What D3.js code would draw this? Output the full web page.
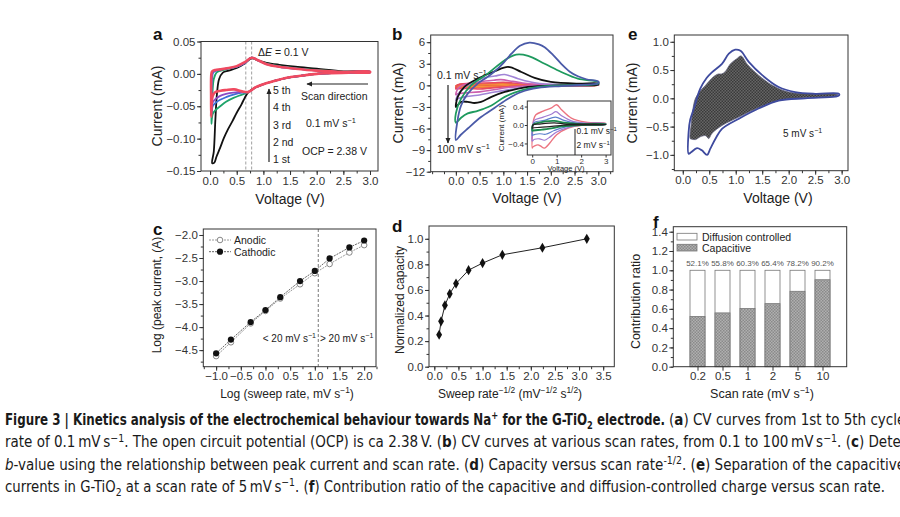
<!DOCTYPE html>
<html><head><meta charset="utf-8">
<script src="https://cdn.jsdelivr.net/npm/d3@7"></script>
<style>
body{margin:0;background:#fff;}
svg{display:block;}
</style></head><body>
<svg id="fig" width="900" height="517"></svg>
<script>
// ---------------- DATA ----------------
// Panel a: CV cycles at 0.1 mV/s  [V, mA]
const aLowerCommon = [[3.0,0.0025],[2.6,0.002],[2.2,0.001],[2.0,0.0],[1.7,-0.003],[1.44,-0.006],[1.2,-0.011],[1.0,-0.016],[0.85,-0.021],[0.72,-0.028]];
const aCycle1 = [[0.65,-0.037],[0.59,-0.047],[0.5,-0.06],[0.42,-0.073],[0.34,-0.085],[0.26,-0.099],[0.19,-0.114],[0.12,-0.128],[0.08,-0.137],[0.04,-0.138],[0.07,-0.12],[0.1,-0.07],[0.13,-0.03],[0.17,-0.008],[0.24,0.002],[0.35,0.005],[0.5,0.009],[0.65,0.016],[0.78,0.024],[0.92,0.02],[1.06,0.017],[1.3,0.014],[1.6,0.011],[2.0,0.008],[2.5,0.004],[3.0,0.0035]];
const aCycle2 = [[0.6,-0.032],[0.44,-0.037],[0.3,-0.043],[0.19,-0.05],[0.1,-0.056],[0.05,-0.062],[0.025,-0.077],[0.03,-0.06],[0.045,-0.03],[0.07,-0.008],[0.12,0.002],[0.2,0.005],[0.35,0.008],[0.5,0.011],[0.65,0.017],[0.78,0.025],[0.92,0.02],[1.06,0.016],[1.3,0.012],[1.6,0.009],[2.0,0.006],[2.5,0.003],[3.0,0.0035]];
const aCycle3 = [[0.6,-0.029],[0.44,-0.032],[0.3,-0.036],[0.19,-0.04],[0.1,-0.045],[0.05,-0.05],[0.025,-0.063],[0.025,-0.04],[0.035,-0.01],[0.06,0.002],[0.15,0.006],[0.3,0.008],[0.5,0.011],[0.65,0.017],[0.78,0.025],[0.92,0.02],[1.06,0.015],[1.3,0.011],[1.6,0.008],[2.0,0.005],[2.5,0.003],[3.0,0.0035]];
const aCycle4 = [[0.6,-0.028],[0.44,-0.029],[0.3,-0.031],[0.19,-0.034],[0.1,-0.039],[0.05,-0.044],[0.025,-0.06],[0.022,-0.04],[0.03,-0.005],[0.05,0.003],[0.15,0.006],[0.3,0.008],[0.5,0.011],[0.65,0.017],[0.78,0.025],[0.92,0.02],[1.06,0.015],[1.3,0.011],[1.6,0.008],[2.0,0.005],[2.5,0.003],[3.0,0.0035]];
const aCycle5 = [[0.6,-0.027],[0.45,-0.024],[0.3,-0.025],[0.2,-0.026],[0.1,-0.028],[0.05,-0.034],[0.03,-0.045],[0.02,-0.066],[0.02,-0.04],[0.025,0.0],[0.04,0.004],[0.1,0.006],[0.2,0.007],[0.35,0.009],[0.5,0.012],[0.65,0.018],[0.78,0.025],[0.9,0.021],[1.06,0.015],[1.3,0.011],[1.6,0.008],[2.0,0.005],[2.5,0.003],[3.0,0.0035]];

// Panel b: CV at various scan rates [V, mA]
const bRate100 = [[3.0,0.3],[2.6,0.05],[2.22,-0.1],[1.73,-0.36],[1.38,-0.92],[1.1,-1.85],[0.82,-3.1],[0.53,-4.4],[0.25,-6.0],[0.1,-6.9],[0.0,-7.6],[0.03,-5.1],[0.11,-2.8],[0.25,-1.15],[0.46,0.24],[0.65,1.1],[0.82,1.96],[1.0,3.1],[1.17,4.4],[1.35,5.5],[1.55,5.95],[1.75,5.7],[1.87,5.3],[2.05,4.2],[2.22,3.0],[2.4,1.9],[2.57,1.26],[2.75,0.85],[3.0,0.55]];
const bRate50 = [[3.0,0.24],[2.22,0.0],[1.73,-0.22],[1.38,-0.69],[1.03,-1.6],[0.75,-2.8],[0.57,-3.3],[0.43,-3.6],[0.25,-3.9],[0.11,-4.5],[0.0,-5.2],[0.0,-3.9],[0.11,-1.85],[0.32,0.0],[0.67,1.63],[1.03,3.5],[1.27,4.27],[1.52,4.1],[1.87,3.0],[2.22,1.86],[2.57,0.93],[3.0,0.47]];
const bRate20 = [[3.0,0.12],[2.22,0.0],[1.52,-0.22],[1.03,-0.92],[0.75,-1.6],[0.53,-2.3],[0.39,-2.45],[0.25,-2.3],[0.11,-2.3],[0.02,-2.9],[0.0,-3.0],[0.04,-1.6],[0.18,-0.2],[0.46,0.93],[0.82,1.96],[1.1,2.56],[1.38,1.86],[1.66,1.03],[2.0,0.47],[2.57,0.24],[3.0,0.26]];
const bRate10 = [[3.0,0.08],[2.22,-0.05],[1.52,-0.2],[1.17,-0.55],[0.82,-0.92],[0.46,-1.38],[0.18,-1.6],[0.04,-1.85],[0.0,-2.07],[0.08,-0.92],[0.25,0.0],[0.53,0.93],[0.82,1.3],[1.03,1.5],[1.31,0.93],[1.66,0.37],[2.22,0.1],[3.0,0.14]];
const bRate5 = [[3.0,0.05],[2.0,0.0],[1.5,-0.1],[1.1,-0.3],[0.8,-0.6],[0.5,-0.9],[0.2,-1.05],[0.05,-1.15],[0.0,-1.3],[0.05,-0.4],[0.2,0.15],[0.5,0.5],[0.8,0.72],[0.95,0.8],[1.2,0.55],[1.5,0.25],[2.0,0.08],[3.0,0.1]];
// low scan rates (also shown in inset)
const bRate2 = [[3.0,0.02],[2.1,0.0],[1.47,-0.065],[1.0,-0.21],[0.72,-0.39],[0.5,-0.5],[0.35,-0.46],[0.24,-0.43],[0.1,-0.45],[0.02,-0.48],[0.0,-0.5],[0.02,-0.1],[0.06,0.12],[0.15,0.22],[0.45,0.3],[0.79,0.37],[1.0,0.44],[1.2,0.33],[1.6,0.15],[2.2,0.06],[3.0,0.035]];
const bRate1 = [[3.0,0.015],[2.1,0.0],[1.5,-0.05],[1.0,-0.15],[0.7,-0.27],[0.5,-0.33],[0.3,-0.3],[0.1,-0.31],[0.02,-0.34],[0.0,-0.35],[0.02,-0.05],[0.08,0.1],[0.45,0.17],[0.8,0.24],[0.97,0.29],[1.2,0.2],[1.6,0.09],[2.2,0.04],[3.0,0.03]];
const bRate05 = [[3.0,0.015],[2.0,0.0],[1.3,-0.05],[0.9,-0.12],[0.55,-0.2],[0.3,-0.19],[0.02,-0.22],[0.0,-0.23],[0.03,0.0],[0.1,0.06],[0.5,0.1],[0.95,0.17],[1.3,0.1],[1.8,0.04],[3.0,0.025]];
const bRate02 = [[3.0,0.012],[2.0,0.0],[1.2,-0.03],[0.7,-0.08],[0.4,-0.1],[0.02,-0.12],[0.0,-0.125],[0.03,0.0],[0.2,0.04],[0.9,0.09],[1.3,0.05],[2.0,0.02],[3.0,0.02]];
const bRate01 = [[3.0,0.008],[1.5,0.0],[0.8,-0.03],[0.3,-0.05],[0.02,-0.065],[0.0,-0.07],[0.03,0.0],[0.3,0.02],[0.9,0.045],[1.4,0.02],[3.0,0.012]];

// Panel e: total current and capacitive part at 5 mV/s [V, mA]
const eTotal = [[0.11,-0.98],[0.11,-0.6],[0.14,-0.38],[0.21,-0.18],[0.33,0.17],[0.45,0.36],[0.55,0.46],[0.74,0.61],[0.87,0.79],[0.99,0.86],[1.09,0.84],[1.25,0.64],[1.5,0.41],[1.81,0.2],[2.12,0.11],[2.5,0.08],[2.95,0.08],[2.95,0.05],[2.88,0.03],[2.31,0.0],[1.81,-0.04],[1.43,-0.18],[1.06,-0.36],[0.74,-0.54],[0.62,-0.71],[0.52,-0.89],[0.46,-1.0],[0.36,-0.92],[0.27,-0.88],[0.15,-0.96]];
const eCapacitive = [[0.14,-0.71],[0.16,-0.45],[0.19,-0.2],[0.24,0.0],[0.33,0.13],[0.43,0.23],[0.58,0.38],[0.67,0.43],[0.73,0.43],[0.8,0.47],[0.9,0.61],[1.02,0.7],[1.1,0.75],[1.22,0.6],[1.43,0.41],[1.69,0.23],[2.0,0.11],[2.44,0.08],[2.92,0.07],[2.92,0.05],[2.31,0.01],[1.81,-0.04],[1.37,-0.19],[1.06,-0.33],[0.74,-0.48],[0.55,-0.62],[0.49,-0.71],[0.43,-0.66],[0.33,-0.68],[0.24,-0.73],[0.16,-0.72]];

// Panel c: log peak current vs log sweep rate
const cLogRate = [-1.0,-0.7,-0.3,0.0,0.3,0.7,1.0,1.3,1.7,2.0];
const cAnodic = [-4.63,-4.33,-3.92,-3.65,-3.38,-3.07,-2.83,-2.63,-2.38,-2.22];
const cCathodic = [-4.57,-4.27,-3.89,-3.63,-3.35,-3.0,-2.78,-2.51,-2.27,-2.12];

// Panel d: normalized capacity vs sweep rate^-1/2
const dInvSqrtRate = [0.1,0.14,0.22,0.32,0.45,0.71,1.0,1.41,2.24,3.16];
const dCapacity = [0.25,0.355,0.48,0.57,0.65,0.755,0.81,0.875,0.93,1.0];

// Panel f: contribution ratio
const fRates = ['0.2','0.5','1','2','5','10'];
const fCapacitive = [0.521,0.558,0.603,0.654,0.782,0.902];

// Caption
const captionTitle = 'Figure 3 | Kinetics analysis of the electrochemical behaviour towards Na^{+} for the G-TiO_{2} electrode.';
const captionLines = [
 '(<b>a</b>) CV curves from 1st to 5th cycles at a scan',
 'rate of 0.1\u2009mV\u2009s^{\u22121}. The open circuit potential (OCP) is ca 2.38\u2009V. (<b>b</b>) CV curves at various scan rates, from 0.1 to 100\u2009mV\u2009s^{\u22121}. (<b>c</b>) Determination of the',
 '<i>b</i>-value using the relationship between peak current and scan rate. (<b>d</b>) Capacity versus scan rate^{-1/2}. (<b>e</b>) Separation of the capacitive and diffusion',
 'currents in G-TiO_{2} at a scan rate of 5\u2009mV\u2009s^{\u22121}. (<b>f</b>) Contribution ratio of the capacitive and diffusion-controlled charge versus scan rate.'
];

// ---------------- DRAWING ----------------
const FONT = '"Liberation Sans", Arial, Helvetica, sans-serif';
const CAPFONT = '"Liberation Sans Narrow", "Arial Narrow", "DejaVu Sans Condensed", sans-serif';
const svg = d3.select('#fig').attr('font-family', FONT);
const defs = svg.append('defs');
defs.append('marker').attr('id','arr').attr('viewBox','0 0 10 10').attr('refX',9).attr('refY',5)
  .attr('markerWidth',5).attr('markerHeight',5).attr('orient','auto')
  .append('path').attr('d','M0,0.5 L10,5 L0,9.5 z').attr('fill','#222');
function hatch(id, bg, fg){
  const p = defs.append('pattern').attr('id',id).attr('width',3).attr('height',3).attr('patternUnits','userSpaceOnUse');
  p.append('rect').attr('width',3).attr('height',3).attr('fill',bg);
  p.append('rect').attr('width',1.5).attr('height',1.5).attr('fill',fg);
  p.append('rect').attr('x',1.5).attr('y',1.5).attr('width',1.5).attr('height',1.5).attr('fill',fg);
}
hatch('hE','#666','#3a3a3a');
hatch('hF','#b0b0b0','#8a8a8a');

function rich(t, str, fs){
  const parts = str.split(/(\^\{[^}]*\}|_\{[^}]*\}|<b>|<\/b>|<i>|<\/i>)/).filter(s => s);
  let bold=false, ital=false, off=0;
  for (const p of parts){
    if (p==='<b>'){bold=true;continue;} if (p==='</b>'){bold=false;continue;}
    if (p==='<i>'){ital=true;continue;} if (p==='</i>'){ital=false;continue;}
    let txt=p, target=0, small=false;
    if (p.startsWith('^{')){txt=p.slice(2,-1);target=-0.38*fs;small=true;}
    else if (p.startsWith('_{')){txt=p.slice(2,-1);target=0.25*fs;small=true;}
    const s = t.append('tspan').text(txt);
    if (target-off!==0) s.attr('dy', target-off);
    off=target;
    if (small) s.attr('font-size', fs*0.7);
    if (bold) s.attr('font-weight','bold');
    if (ital) s.attr('font-style','italic');
  }
  return t;
}
function label(g, x, y, str, o={}){
  const fs=o.fs||12;
  const t=g.append('text').attr('x',x).attr('y',y).attr('font-size',fs).attr('fill',o.fill||'#222')
    .attr('text-anchor',o.anchor||'start');
  if(o.family) t.attr('font-family',o.family);
  if(o.rot) t.attr('transform',`rotate(-90,${x},${y})`);
  if(o.bold) t.attr('font-weight','bold');
  if(o.len) t.attr('textLength',o.len).attr('lengthAdjust','spacingAndGlyphs');
  return rich(t,str,fs);
}
function axes(g, x, y, o){
  const [xa,xb]=x.range(), [yb,ya]=y.range();
  const fs=o.fs||11.5, ts=o.ts||4, tp=o.tp===undefined?1.5:o.tp;
  const style = s => { s.attr('font-size',fs).attr('font-family',FONT); s.select('.domain').remove();
    s.selectAll('line').attr('stroke','#333'); s.selectAll('text').attr('fill','#333'); };
  if(o.xm) g.append('g').attr('transform',`translate(0,${yb})`).call(d3.axisBottom(x).tickValues(o.xm).tickFormat('').tickSize(2.5)).call(style);
  g.append('g').attr('transform',`translate(0,${yb})`).call(d3.axisBottom(x).tickValues(o.xt).tickFormat(o.xf).tickSize(ts).tickPadding(tp)).call(style);
  if(o.ym) g.append('g').attr('transform',`translate(${xa},0)`).call(d3.axisLeft(y).tickValues(o.ym).tickFormat('').tickSize(2.5)).call(style);
  g.append('g').attr('transform',`translate(${xa},0)`).call(d3.axisLeft(y).tickValues(o.yt).tickFormat(o.yf).tickSize(ts).tickPadding(tp)).call(style);
  g.append('rect').attr('x',xa).attr('y',ya).attr('width',xb-xa).attr('height',yb-ya)
    .attr('fill','none').attr('stroke','#333').attr('stroke-width',1);
}
const f1=d3.format('.1f'), f2=d3.format('.2f');
const loop = (x,y) => d3.line().x(d=>x(d[0])).y(d=>y(d[1])).curve(d3.curveCatmullRomClosed.alpha(0.5));

// ---- Panel a ----
{
  const g=svg.append('g');
  const x=d3.scaleLinear().domain([-0.17,3.15]).range([201,378]);
  const y=d3.scaleLinear().domain([-0.15,0.05]).range([171,41.5]);
  const ln=loop(x,y);
  [0.67,0.78].forEach(v=>g.append('line').attr('x1',x(v)).attr('x2',x(v)).attr('y1',y(0.05)).attr('y2',y(-0.15))
    .attr('stroke','#888').attr('stroke-width',0.8).attr('stroke-dasharray','3,2'));
  const cyc=[[aCycle1,'#111',1.8],[aCycle2,'#1fa36b',1.8],[aCycle3,'#3d6fd6',1.8],[aCycle4,'#8a4cc4',1.8],[aCycle5,'#f04a60',2.6]];
  cyc.forEach(([d,c,w])=>g.append('path').attr('d',ln(aLowerCommon.concat(d))).attr('fill','none').attr('stroke',c).attr('stroke-width',w));
  axes(g,x,y,{xt:d3.range(0,3.01,0.5),xf:f1,xm:d3.range(0,3.01,0.25),yt:[0.05,0,-0.05,-0.1,-0.15],yf:f2,ym:d3.range(-0.15,0.051,0.025)});
  label(g,153,40,'a',{fs:17,bold:true,fill:'#111'});
  label(g,162,106,'Current (mA)',{fs:14,rot:true,anchor:'middle'});
  label(g,290,204,'Voltage (V)',{fs:14,anchor:'middle'});
  const t=label(g,258,56,'',{fs:10.5}); t.append('tspan').text('\u0394'); t.append('tspan').attr('font-style','italic').text('E'); t.append('tspan').text(' = 0.1 V');
  ['5 th','4 th','3 rd','2 nd','1 st'].forEach((s,i)=>label(g,273,94+i*17.3,s,{fs:10.5}));
  g.append('line').attr('x1',269).attr('x2',269).attr('y1',162).attr('y2',89).attr('stroke','#222').attr('stroke-width',1.2).attr('marker-end','url(#arr)');
  g.append('line').attr('x1',368).attr('x2',307).attr('y1',84).attr('y2',84).attr('stroke','#222').attr('stroke-width',1.2).attr('marker-end','url(#arr)');
  label(g,301,100,'Scan direction',{fs:10.5});
  label(g,306,127,'0.1 mV s^{\u22121}',{fs:10.5});
  label(g,302,155,'OCP = 2.38 V',{fs:10.5});
}

// ---- Panel b ----
{
  const g=svg.append('g');
  const x=d3.scaleLinear().domain([-0.53,3.31]).range([430.7,613]);
  const y=d3.scaleLinear().domain([-12,7]).range([171.7,35]);
  const ln=loop(x,y);
  const cur=[[bRate01,'#d8384a',1.6],[bRate02,'#e8553a',1.6],[bRate05,'#f5953e',1.6],[bRate1,'#f27a3a',1.6],[bRate2,'#e84a62',1.6],
    [bRate5,'#cc5fae',1.6],[bRate10,'#a184d6',1.6],[bRate20,'#111',1.8],[bRate50,'#1e9a5e',1.8],[bRate100,'#4a5aa8',1.8]];
  cur.forEach(([d,c,w])=>g.append('path').attr('d',ln(d)).attr('fill','none').attr('stroke',c).attr('stroke-width',w));
  axes(g,x,y,{xt:d3.range(0,3.01,0.5),xf:f1,xm:d3.range(-0.5,3.26,0.25),yt:[6,3,0,-3,-6,-9,-12],yf:d3.format('d'),ym:d3.range(-12,7.1,1.5)});
  label(g,392,40,'b',{fs:17,bold:true,fill:'#111'});
  label(g,403,103,'Current (mA)',{fs:14,rot:true,anchor:'middle'});
  label(g,527,203,'Voltage (V)',{fs:14,anchor:'middle'});
  label(g,437,79,'0.1 mV s^{\u22121}',{fs:10.5});
  label(g,437,153,'100 mV s^{\u22121}',{fs:10.5});
  g.append('line').attr('x1',448).attr('x2',448).attr('y1',85).attr('y2',143).attr('stroke','#222').attr('stroke-width',1.2).attr('marker-end','url(#arr)');
  // inset
  const gi=g.append('g');
  const xi=d3.scaleLinear().domain([-0.2,3.22]).range([527.3,611]);
  const yi=d3.scaleLinear().domain([-0.65,0.52]).range([155,101]);
  gi.append('rect').attr('x',527.3).attr('y',101).attr('width',611-527.3).attr('height',54).attr('fill','#fff');
  const lni=loop(xi,yi);
  const ins=[[bRate2,'#ec7480',1.4],[bRate1,'#a07ad2',1.2],[bRate05,'#5d80cc',1.2],[bRate02,'#1b8a4e',1.8],[bRate01,'#222',1.2]];
  ins.forEach(([d,c,w])=>gi.append('path').attr('d',lni(d)).attr('fill','none').attr('stroke',c).attr('stroke-width',w));
  axes(gi,xi,yi,{fs:8,ts:2.5,tp:0.8,xt:[0,1,2,3],xf:d3.format('d'),yt:[0.4,0,-0.4],yf:f1});
  label(gi,504,128,'Current (mA)',{fs:8,rot:true,anchor:'middle'});
  label(gi,566,170.5,'Voltage (V)',{fs:7.5,anchor:'middle'});
  label(gi,576.5,134,'0.1 mV s^{\u22121}',{fs:8.5});
  label(gi,576.5,148,'2 mV s^{\u22121}',{fs:8.5});
  gi.append('line').attr('x1',575).attr('x2',575).attr('y1',129).attr('y2',155).attr('stroke','#222').attr('stroke-width',1);
}

// ---- Panel e ----
{
  const g=svg.append('g');
  const x=d3.scaleLinear().domain([-0.16,3.12]).range([674.3,848]);
  const y=d3.scaleLinear().domain([-1.28,1.12]).range([170.7,35]);
  const ln=loop(x,y);
  g.append('path').attr('d',ln(eCapacitive)).attr('fill','url(#hE)').attr('stroke','#60607a').attr('stroke-width',0.8);
  g.append('path').attr('d',ln(eTotal)).attr('fill','none').attr('stroke','#3e4a9e').attr('stroke-width',1.8);
  axes(g,x,y,{xt:d3.range(0,3.01,0.5),xf:f1,xm:d3.range(0,3.01,0.25),yt:[1,0.5,0,-0.5,-1],yf:f1,ym:d3.range(-1.25,1.01,0.25)});
  label(g,628,40,'e',{fs:17,bold:true,fill:'#111'});
  label(g,637,103,'Current (mA)',{fs:14,rot:true,anchor:'middle'});
  label(g,778,203,'Voltage (V)',{fs:14,anchor:'middle'});
  label(g,783,137,'5 mV s^{\u22121}',{fs:10});
}

// ---- Panel c ----
{
  const g=svg.append('g');
  const x=d3.scaleLinear().domain([-1.26,2.24]).range([203.3,376]);
  const y=d3.scaleLinear().domain([-4.86,-1.87]).range([366.7,229]);
  g.append('line').attr('x1',x(1.07)).attr('x2',x(1.07)).attr('y1',y(-1.87)).attr('y2',y(-4.86)).attr('stroke','#555').attr('stroke-width',0.8).attr('stroke-dasharray','3,2');
  const pl=d3.line().x(d=>x(d[0])).y(d=>y(d[1]));
  const an=cLogRate.map((v,i)=>[v,cAnodic[i]]), ca=cLogRate.map((v,i)=>[v,cCathodic[i]]);
  g.append('path').attr('d',pl(an)).attr('fill','none').attr('stroke','#9a9a9a').attr('stroke-width',1).attr('stroke-dasharray','2,1');
  g.append('path').attr('d',pl(ca)).attr('fill','none').attr('stroke','#666').attr('stroke-width',1).attr('stroke-dasharray','2,1');
  g.selectAll('.ao').data(an).join('circle').attr('cx',d=>x(d[0])).attr('cy',d=>y(d[1])).attr('r',2.8).attr('fill','#fff').attr('stroke','#888').attr('stroke-width',1);
  g.selectAll('.co').data(ca).join('circle').attr('cx',d=>x(d[0])).attr('cy',d=>y(d[1])).attr('r',3.1).attr('fill','#111');
  axes(g,x,y,{xt:d3.range(-1,2.01,0.5),xf:f1,xm:d3.range(-1.25,2.26,0.25),yt:[-2,-2.5,-3,-3.5,-4,-4.5],yf:f1,ym:d3.range(-4.75,-1.9,0.25)});
  // legend
  g.append('line').attr('x1',209).attr('x2',231).attr('y1',240).attr('y2',240).attr('stroke','#9a9a9a').attr('stroke-dasharray','2,1');
  g.append('circle').attr('cx',220).attr('cy',240).attr('r',2.8).attr('fill','#fff').attr('stroke','#888');
  g.append('line').attr('x1',209).attr('x2',231).attr('y1',251.7).attr('y2',251.7).attr('stroke','#666').attr('stroke-dasharray','2,1');
  g.append('circle').attr('cx',220).attr('cy',251.7).attr('r',3.1).attr('fill','#111');
  label(g,234,244,'Anodic',{fs:10.5});
  label(g,234,255.7,'Cathodic',{fs:10.5});
  label(g,316,342,'< 20 mV s^{\u22121}',{fs:10,anchor:'end'});
  label(g,320,342,'> 20 mV s^{\u22121}',{fs:10});
  label(g,153,235,'c',{fs:17,bold:true,fill:'#111'});
  label(g,161,295,'Log (peak current, (A)',{fs:12,rot:true,anchor:'middle'});
  label(g,287,397.5,'Log (sweep rate, mV s^{\u22121})',{fs:12,anchor:'middle'});
}

// ---- Panel d ----
{
  const g=svg.append('g');
  const x=d3.scaleLinear().domain([-0.11,3.73]).range([429,614.3]);
  const y=d3.scaleLinear().domain([0,1.1]).range([366.7,226]);
  const pts=dInvSqrtRate.map((v,i)=>[v,dCapacity[i]]);
  g.append('path').attr('d',d3.line().x(d=>x(d[0])).y(d=>y(d[1]))(pts)).attr('fill','none').attr('stroke','#222').attr('stroke-width',1);
  g.selectAll('.dp').data(pts).join('path').attr('transform',d=>`translate(${x(d[0])},${y(d[1])})`).attr('d',d3.symbol(d3.symbolDiamond,30)()).attr('fill','#111');
  axes(g,x,y,{xt:d3.range(0,3.51,0.5),xf:f1,xm:d3.range(0,3.6,0.25),yt:d3.range(0,1.01,0.2),yf:f1,ym:d3.range(0,1.1,0.1)});
  label(g,392,232,'d',{fs:17,bold:true,fill:'#111'});
  label(g,404,300,'Normalized capacity',{fs:12,rot:true,anchor:'middle'});
  label(g,510,397.5,'Sweep rate^{\u22121/2} (mV^{\u22121/2} s^{1/2})',{fs:12,anchor:'middle'});
}

// ---- Panel f ----
{
  const g=svg.append('g');
  const x=d3.scalePoint().domain(fRates).range([673.3,846.7]).padding(0.968);
  const y=d3.scaleLinear().domain([0,1.452]).range([366.7,226.7]);
  const bw=15;
  g.selectAll('.bt').data(fRates).join('rect').attr('x',d=>x(d)-bw/2).attr('width',bw).attr('y',y(1)).attr('height',y(0)-y(1))
    .attr('fill','#fff').attr('stroke','#777').attr('stroke-width',0.8);
  g.selectAll('.bc').data(fCapacitive).join('rect').attr('x',(d,i)=>x(fRates[i])-bw/2).attr('width',bw).attr('y',d=>y(d)).attr('height',d=>y(0)-y(d))
    .attr('fill','url(#hF)').attr('stroke','#777').attr('stroke-width',0.8);
  g.selectAll('.bl').data(fCapacitive).join('text').attr('x',(d,i)=>x(fRates[i])).attr('y',y(1)-4).attr('text-anchor','middle')
    .attr('font-size',8).attr('fill','#555').text(d=>d3.format('.1%')(d));
  axes(g,x,y,{xt:fRates,xf:d=>d,yt:d3.range(0,1.41,0.2),yf:f1,ym:d3.range(0,1.45,0.1)});
  g.append('rect').attr('x',677).attr('y',233.3).attr('width',20).attr('height',6.7).attr('fill','#fff').attr('stroke','#777').attr('stroke-width',0.8);
  g.append('rect').attr('x',677).attr('y',244.3).attr('width',20).attr('height',6.7).attr('fill','url(#hF)').attr('stroke','#777').attr('stroke-width',0.8);
  label(g,702,240.5,'Diffusion controlled',{fs:10.5});
  label(g,702,251.5,'Capacitive',{fs:10.5});
  label(g,653,228,'f',{fs:17,bold:true,fill:'#111'});
  label(g,639.5,301.5,'Contribution ratio',{fs:12.5,rot:true,anchor:'middle'});
  label(g,762,397.5,'Scan rate (mV s^{\u22121})',{fs:12.5,anchor:'middle'});
}

// ---- Caption ----
{
  const g=svg.append('g');
  const cap={fs:15,family:CAPFONT,fill:'#1a1a1a'};
  label(g,5,425,'<b>'+captionTitle+'</b>',Object.assign({len:660},cap));
  label(g,669,425,captionLines[0],cap);
  label(g,5,447.3,captionLines[1],cap);
  label(g,5,469.6,captionLines[2],cap);
  label(g,5,491.9,captionLines[3],Object.assign({len:880},cap));
}
</script></body></html>
